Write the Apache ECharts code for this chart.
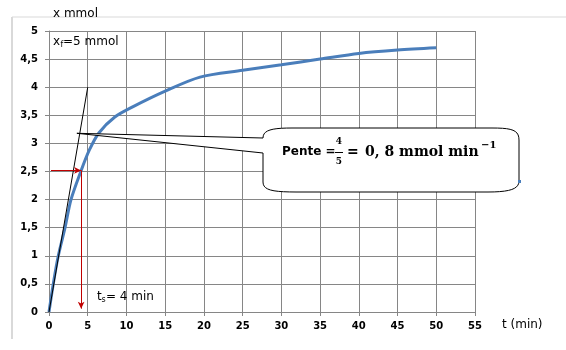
<!DOCTYPE html>
<html>
<head>
<meta charset="utf-8">
<script src="https://cdn.jsdelivr.net/npm/echarts@6/dist/echarts.min.js"></script>
<style>html,body{margin:0;padding:0;background:#fff;}#c{width:566px;height:350px;}</style>
</head>
<body>
<div id="c"></div>
<script>
// Data
var times = [0, 0.55, 1.2, 2.07, 2.84, 4.13, 5.2, 6.46, 8.5, 10.8, 15, 19.5, 25, 30, 35, 40, 45, 50];
var xValues = [0, 0.5, 1.0, 1.5, 2.0, 2.51, 2.88, 3.19, 3.47, 3.65, 3.93, 4.18, 4.3, 4.4, 4.5, 4.6, 4.66, 4.7];
var tangent = [[0, 0], [5, 4]];
var tauPoint = [4.15, 2.52];
var xTicks = [0, 5, 10, 15, 20, 25, 30, 35, 40, 45, 50, 55];
var yTicks = [0, 0.5, 1, 1.5, 2, 2.5, 3, 3.5, 4, 4.5, 5];
var calloutTip = [3.6, 3.18];

var gridColor = '#868686';
var labelFont = {fontFamily: 'DejaVu Sans', fontWeight: 'bold', fontSize: 10, color: '#000'};

var chart = echarts.init(document.getElementById('c'), null, {renderer: 'canvas'});
var curve = times.map(function (t, i) { return [t, xValues[i]]; });

chart.setOption({
  animation: false,
  backgroundColor: '#fff',
  grid: {left: 49, top: 31, width: 426, height: 281},
  xAxis: {
    type: 'value', min: xTicks[0], max: xTicks[xTicks.length - 1], interval: 5,
    axisLine: {lineStyle: {color: gridColor, width: 1}},
    axisTick: {show: true, length: 4, lineStyle: {color: gridColor}},
    splitLine: {show: true, lineStyle: {color: gridColor, width: 1}},
    axisLabel: Object.assign({margin: 9}, labelFont)
  },
  yAxis: {
    type: 'value', min: yTicks[0], max: yTicks[yTicks.length - 1], interval: 0.5,
    axisLine: {show: true, lineStyle: {color: gridColor, width: 1}},
    axisTick: {show: true, length: 4, lineStyle: {color: gridColor}},
    splitLine: {show: true, lineStyle: {color: gridColor, width: 1}},
    axisLabel: Object.assign({margin: 11, formatter: function (v) { return String(v).replace('.', ','); }}, labelFont)
  },
  series: [
    {
      type: 'line', data: curve, smooth: 0.3, symbol: 'none', z: 3,
      lineStyle: {color: '#4A7EBB', width: 3}
    },
    {
      type: 'line', data: tangent, symbol: 'none', z: 4,
      lineStyle: {color: '#000', width: 1},
      markLine: {
        silent: true, symbol: ['none', 'arrow'], symbolSize: [5, 7],
        label: {show: false},
        lineStyle: {color: '#C00000', width: 1, type: 'solid'},
        data: [
          [{coord: [0.26, tauPoint[1]]}, {coord: [tauPoint[0], tauPoint[1]]}],
          [{coord: [tauPoint[0], tauPoint[1]]}, {coord: [tauPoint[0], 0.06]}]
        ]
      }
    }
  ]
});

var tip = chart.convertToPixel({gridIndex: 0}, calloutTip);

// build callout outline as polygon (sampled bezier corners)
function bez(p0, p1, p2, p3, n, out) {
  for (var i = 1; i <= n; i++) {
    var t = i / n, u = 1 - t;
    out.push([
      u*u*u*p0[0] + 3*u*u*t*p1[0] + 3*u*t*t*p2[0] + t*t*t*p3[0],
      u*u*u*p0[1] + 3*u*u*t*p1[1] + 3*u*t*t*p2[1] + t*t*t*p3[1]
    ]);
  }
}
var pts = [[292, 128], [492, 128]];
bez([492, 128], [512, 128], [519, 130], [519, 140], 10, pts);
pts.push([519, 181]);
bez([519, 181], [519, 189], [510, 192], [488, 192], 10, pts);
pts.push([296, 192]);
bez([296, 192], [272, 192], [263, 190], [263, 182], 10, pts);
pts.push([263, 153]);
pts.push([tip[0], tip[1]]);
pts.push([263, 138]);
bez([263, 138], [263, 130], [272, 128], [292, 128], 10, pts);

var txt = function (text, x, y, font, align, fill) {
  return {type: 'text', z: 100, style: {text: text, x: x, y: y, font: font, fill: fill || '#000', textAlign: align || 'left', textVerticalAlign: 'middle', verticalAlign: 'middle'}};
};

chart.setOption({
  graphic: [
    {type: 'line', z: 1, shape: {x1: 12, y1: 17, x2: 566, y2: 17}, style: {stroke: '#d9d9d9', lineWidth: 1}},
    {type: 'line', z: 1, shape: {x1: 12, y1: 17, x2: 12, y2: 339}, style: {stroke: '#d9d9d9', lineWidth: 2}},
    {type: 'polygon', z: 90, shape: {points: pts}, style: {fill: '#fff', stroke: '#000', lineWidth: 1}},
    {type: 'rect', z: 91, shape: {x: 518, y: 180, width: 3, height: 3}, style: {fill: '#4A7EBB'}},
    txt('x mmol', 53, 14, '12px "DejaVu Sans"'),
    txt('x', 53, 42, '12px "DejaVu Sans"'),
    txt('f', 60.5, 45, '8px "DejaVu Sans"'),
    txt('=5 mmol', 63, 42, '12px "DejaVu Sans"'),
    txt('t', 97, 297, '12px "DejaVu Sans"'),
    txt('s', 101.5, 300, '8px "DejaVu Sans"'),
    txt('= 4 min', 106, 297, '12px "DejaVu Sans"'),
    txt('t (min)', 502, 325, '12px "DejaVu Sans"'),
    txt('Pente =', 282, 152, 'bold 12px "DejaVu Sans"'),
    txt('4', 339, 142, 'bold 9px "DejaVu Serif"', 'center'),
    {type: 'line', z: 100, shape: {x1: 335, y1: 152.5, x2: 343, y2: 152.5}, style: {stroke: '#000', lineWidth: 1}},
    txt('5', 339, 162, 'bold 9px "DejaVu Serif"', 'center'),
    txt('=', 347, 152, 'bold 14px "DejaVu Serif"'),
    txt('0, 8 mmol min', 365, 152, 'bold 14px "DejaVu Serif"'),
    txt('\u22121', 481, 145, 'bold 10px "DejaVu Serif"')
  ]
});
</script>
</body>
</html>
